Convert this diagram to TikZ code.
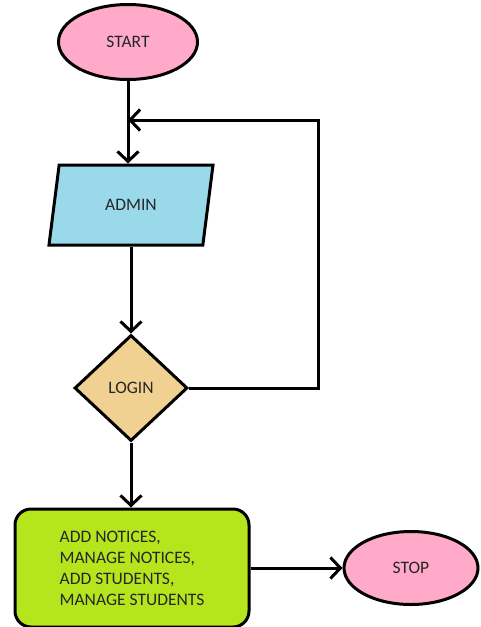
\documentclass[tikz,border=0pt]{standalone}
\usepackage{fontspec}
\setmainfont{Carlito}
\usetikzlibrary{shapes.geometric,arrows.meta}

\definecolor{terminalpink}{RGB}{255,170,201}
\definecolor{inputblue}{RGB}{153,217,234}
\definecolor{decisiontan}{RGB}{240,209,146}
\definecolor{processgreen}{RGB}{181,230,29}

\begin{document}
\begin{tikzpicture}[
					x=1pt,y=-1pt,
					line width=3pt,
					font=\fontsize{17.5}{21}\selectfont,
					text=black!85,
					terminal/.style={ellipse,draw,fill=terminalpink,inner sep=0pt},
					flowarrow/.style={-{Straight Barb[length=10pt,width=21pt]}},
					]
					\useasboundingbox (0,0) rectangle (480,627);
					\node [terminal,minimum width=139,minimum height=75] (start) at (128,42) {START};
					\node [trapezium,draw,fill=inputblue,trapezium left angle=72,trapezium right angle=108,
						trapezium stretches=true,minimum width=165,minimum height=80,inner sep=0pt] (admin) at (131,205) {ADMIN};
					\node [diamond,draw,fill=decisiontan,minimum width=113,minimum height=106,inner sep=0pt] (login) at (131,388) {LOGIN};
					\node [rectangle,draw,rounded corners=16pt,fill=processgreen,minimum width=234,minimum height=118,
						align=left] (tasks) at (132,568) {ADD NOTICES,\\ MANAGE NOTICES,\\ ADD STUDENTS,\\ MANAGE STUDENTS};
					\node [terminal,minimum width=134,minimum height=73] (stop) at (411,568) {STOP};
					\coordinate (back) at (318,120);
					\coordinate (merge) at (128,120);
					\draw[flowarrow] (start) -- (start |- admin.north);
					\draw[flowarrow] (login.east) -| (back) -- (merge);
					\draw[flowarrow] (admin.south -| login.north) -- (login.north);
					\draw[flowarrow] (login.south) -- (tasks.north -| login.south);
					\draw[flowarrow] (tasks.east) -- (stop.west);
				\end{tikzpicture}
\end{document}
